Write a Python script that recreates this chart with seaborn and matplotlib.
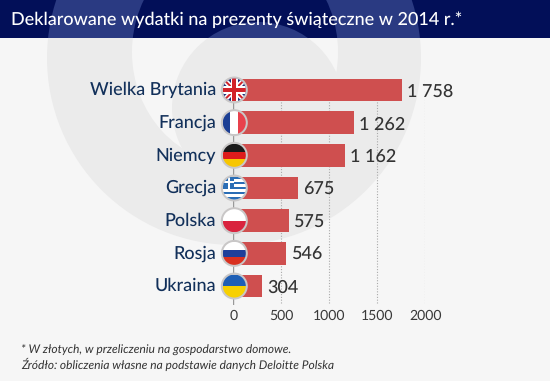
import numpy as np
import pandas as pd
import seaborn as sns
import matplotlib.pyplot as plt
from matplotlib.patches import Circle, Ellipse, Rectangle, Polygon
from matplotlib.transforms import ScaledTranslation

kraje = ["Wielka Brytania", "Francja", "Niemcy", "Grecja", "Polska", "Rosja", "Ukraina"]
wydatki = [1758, 1262, 1162, 675, 575, 546, 304]
etykiety = ["1 758", "1 262", "1 162", "675", "575", "546", "304"]
flagi = ["uk", "fr", "de", "gr", "pl", "ru", "ua"]
skala = [0, 500, 1000, 1500, 2000]

tytul = "Deklarowane wydatki na prezenty świąteczne w 2014 r.*"
przypis = "* W złotych, w przeliczeniu na gospodarstwo domowe.\nŹródło: obliczenia własne na podstawie danych Deloitte Polska"

sns.set_theme(style="white")
plt.rcParams["font.family"] = ["Lato", "DejaVu Sans"]
plt.rcParams["text.hinting"] = "none"
plt.rcParams["text.hinting_factor"] = 1

W, H = 550, 381
fig = plt.figure(figsize=(W / 100, H / 100), dpi=100)

# tlo w pikselach
bg = fig.add_axes([0, 0, 1, 1], zorder=0)
bg.set_xlim(0, W)
bg.set_ylim(H, 0)
bg.axis("off")
bg.add_patch(Rectangle((0, 0), W, H, color="#f6f6f6", zorder=0))


def znak(jasny, ciemny, zo, clip=None):
    # logo w tle: kolo, jasny srodek, kolo w srodku
    ksztalty = [
        (Circle((234, 58), 187), jasny),
        (Ellipse((235, 52), 206, 224), ciemny),
        (Circle((258, 108), 86), jasny),
    ]
    for p, c in ksztalty:
        p.set(color=c, lw=0, zorder=zo)
        bg.add_patch(p)
        if clip is not None:
            p.set_clip_path(clip)


znak("#ebebeb", "#f6f6f6", 1)
bg.add_patch(Rectangle((0, 0), W, 38, color="#020f58", lw=0, zorder=2))
naglowek = Rectangle((0, 0), W, 38, transform=bg.transData)
znak("#2a3a82", "#020f58", 3, naglowek)
bg.text(11, 20, tytul, color="white", fontsize=12.75, fontweight="medium", va="center", ha="left", zorder=6)
bg.text(21, 357.5, przypis, color="#333333", fontsize=8.5, style="italic", va="center",
        ha="left", linespacing=1.3, zorder=6)

# wykres
df = pd.DataFrame({"kraj": kraje, "wydatki": wydatki})
x0, x1 = 233.3, 425.3
y0, y1 = 78, 305
ax = fig.add_axes([x0 / W, 1 - y1 / H, (x1 - x0) / W, (y1 - y0) / H], zorder=1)
ax.patch.set_alpha(0)
sns.barplot(data=df, x="wydatki", y="kraj", color="#cf4f4f", saturation=1, width=0.7, linewidth=0, ax=ax, zorder=3)
ax.set_xlim(0, 2000)
ax.set_ylim(6.58, -0.367)
ax.set_xlabel("")
ax.set_ylabel("")
ax.set_xticks(skala)
ax.set_xticklabels(skala, color="#3a3a3a", fontsize=10.3)
ax.tick_params(axis="x", length=0, pad=3)
ax.tick_params(axis="y", length=0, pad=12.5, labelsize=13.2, labelcolor="#12305a")
for t in ax.get_yticklabels():
    t.set_fontweight("medium")
    t.set_va("center_baseline")
    t.set_transform(t.get_transform() + ScaledTranslation(0, 1.5 / 100, fig.dpi_scale_trans))
for s in ax.spines.values():
    s.set_visible(False)
ax.axvline(0, color="#999999", lw=1, zorder=1)
for v in skala[1:]:
    ax.axvline(v, ymin=0.01, color="#aaaaaa", lw=0.8, ls=(0, (1, 1.5)), zorder=1)
napisy = ax.bar_label(ax.containers[0], labels=etykiety, padding=3.5, fontsize=12.8, fontweight="medium", color="#333333")
for t in napisy:
    t.xyann = (t.xyann[0], -1.2)


def flaga(a, nazwa, cx, cy, r=11.5):
    kolo = Circle((cx, cy), r, transform=a.transData)

    def pas(x, y, w, h, c):
        p = Rectangle((cx + x, cy + y), w, h, color=c, lw=0, zorder=6)
        a.add_patch(p)
        p.set_clip_path(kolo)

    def skos(z, w, c):
        n = w * np.array([-z, 1]) / np.sqrt(2)
        s = np.array([cx - r, cy - r * z])
        e = np.array([cx + r, cy + r * z])
        p = Polygon([s + n, e + n, e - n, s - n], color=c, lw=0, zorder=6)
        a.add_patch(p)
        p.set_clip_path(kolo)

    a.add_patch(Circle((cx, cy), r + 2, color="#c9c7c7", lw=0, zorder=5))
    if nazwa == "uk":
        pas(-r, -r, 2 * r, 2 * r, "#1f2f7a")
        for z in (1, -1):
            skos(z, 2.6, "white")
            skos(z, 1.0, "#d2232a")
        pas(-r, -3.6, 2 * r, 7.2, "white")
        pas(-3.6, -r, 7.2, 2 * r, "white")
        pas(-r, -2.1, 2 * r, 4.2, "#d2232a")
        pas(-2.1, -r, 4.2, 2 * r, "#d2232a")
    elif nazwa == "fr":
        pas(-r, -r, r * 2 / 3, 2 * r, "#1c3f94")
        pas(-r / 3, -r, r * 2 / 3, 2 * r, "white")
        pas(r / 3, -r, r * 2 / 3, 2 * r, "#e8414c")
    elif nazwa == "de":
        pas(-r, -r, 2 * r, r * 2 / 3, "#1a1a1a")
        pas(-r, -r / 3, 2 * r, r * 2 / 3, "#dd1c1c")
        pas(-r, r / 3, 2 * r, r * 2 / 3, "#f7c600")
    elif nazwa == "gr":
        pas(-r, -r, 2 * r, 2 * r, "white")
        for k in range(0, 9, 2):
            pas(-r, -r + k * 2 * r / 9, 2 * r, 2 * r / 9, "#2a6db5")
        pas(-r, -r, r, r * 10 / 9, "#2a6db5")
        pas(-r, -r * 5 / 9 - 1, r, 2, "white")
        pas(-r / 2 - 1, -r, 2, r * 10 / 9, "white")
    elif nazwa == "pl":
        pas(-r, -r, 2 * r, r, "white")
        pas(-r, 0, 2 * r, r, "#d9233e")
    elif nazwa == "ru":
        pas(-r, -r, 2 * r, r * 2 / 3, "white")
        pas(-r, -r / 3, 2 * r, r * 2 / 3, "#1f3f9a")
        pas(-r, r / 3, 2 * r, r * 2 / 3, "#d9301f")
    elif nazwa == "ua":
        pas(-r, -r, 2 * r, r, "#1f5fb5")
        pas(-r, 0, 2 * r, r, "#f7d000")


# flagi na osobnej warstwie, pozycje z osi wykresu
fg = fig.add_axes([0, 0, 1, 1], zorder=2)
fg.set_xlim(0, W)
fg.set_ylim(H, 0)
fg.axis("off")
for i, n in enumerate(flagi):
    px, py = ax.transData.transform((0, i))
    flaga(fg, n, px + 1, H - py)

fig.savefig("out.png", dpi=100)
